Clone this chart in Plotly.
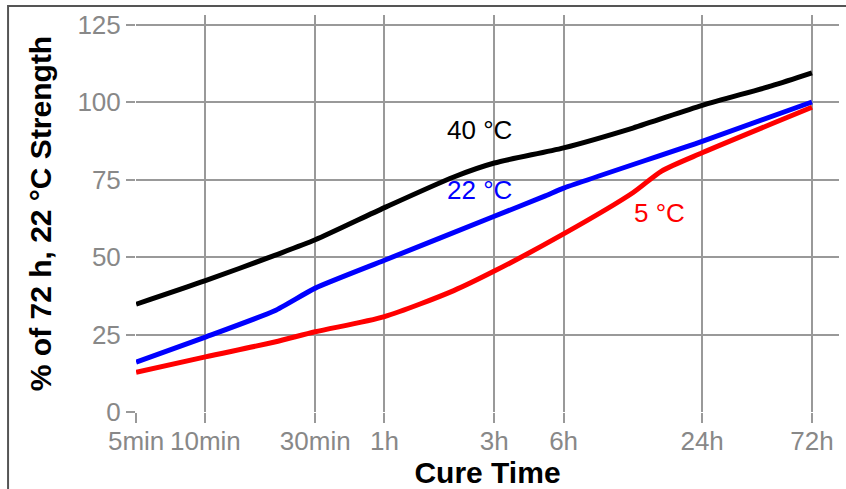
import numpy as np
import plotly.graph_objects as go

# Cure time in minutes
tick_minutes = [5, 10, 30, 60, 180, 360, 1440, 4320]
tick_labels = ["5min", "10min", "30min", "1h", "3h", "6h", "24h", "72h"]

t_40 = [5, 10, 20, 30, 60, 120, 180, 360, 720, 1440, 2880, 4320]
v_40 = [34.8, 42.4, 50.6, 55.6, 66.0, 75.9, 80.4, 85.3, 91.7, 99.0, 105.3, 109.5]

t_22 = [5, 10, 20, 30, 60, 180, 300, 360, 1440, 4320]
v_22 = [16.1, 24.2, 32.7, 40.0, 49.0, 63.2, 69.8, 72.3, 87.4, 100.1]

t_5 = [5, 10, 20, 30, 60, 120, 180, 360, 720, 960, 1440, 4320]
v_5 = [12.8, 17.8, 22.6, 25.9, 30.8, 39.2, 45.5, 57.5, 70.8, 77.8, 83.7, 98.4]

FONT = "Liberation Sans, Arial, sans-serif"

fig = go.Figure()
for t, v, c, name, sm in [(t_40, v_40, "#000000", "40 °C", 0.7),
                          (t_22, v_22, "#0000FF", "22 °C", 0.5),
                          (t_5, v_5, "#FF0000", "5 °C", 0.7)]:
    fig.add_trace(go.Scatter(x=t, y=v, mode="lines", name=name,
                             line=dict(color=c, width=5, shape="spline", smoothing=sm),
                             showlegend=False))

fig.add_annotation(x=np.log10(156), y=91.1, text="40 °C", showarrow=False,
                   font=dict(family=FONT, size=26, color="#000000"))
fig.add_annotation(x=np.log10(156), y=71.7, text="22 °C", showarrow=False,
                   font=dict(family=FONT, size=26, color="#0000FF"))
fig.add_annotation(x=np.log10(944), y=64.3, text="5 °C", showarrow=False,
                   font=dict(family=FONT, size=26, color="#FF0000"))

# outer frame (top and left edges visible)
fig.add_shape(type="rect", xref="paper", yref="paper",
              x0=-0.182, x1=1.3, y0=-0.6, y1=1.0227,
              line=dict(color="#555555", width=2), fillcolor="rgba(0,0,0,0)")

fig.update_xaxes(type="log", range=[np.log10(5) - 0.0005, 3.753],
                 tickvals=tick_minutes, ticktext=tick_labels,
                 showgrid=True, gridcolor="#999999", gridwidth=1.5,
                 ticks="outside", ticklen=10, tickcolor="#999999", tickwidth=1.5,
                 tickfont=dict(family=FONT, size=26, color="#888888"),
                 ticklabelstandoff=-4,
                 showline=False, zeroline=False,
                 title=dict(text="Cure Time", standoff=0,
                            font=dict(family=FONT, size=30, color="#000000", weight="bold")))
fig.update_yaxes(range=[0, 128.2], tickvals=[0, 25, 50, 75, 100, 125],
                 showgrid=True, gridcolor="#999999", gridwidth=1.5,
                 ticks="outside", ticklen=9, tickcolor="#999999", tickwidth=1.5,
                 tickfont=dict(family=FONT, size=26, color="#888888"),
                 showline=False, zeroline=False,
                 title=dict(text="% of 72 h, 22 °C Strength", standoff=16,
                            font=dict(family=FONT, size=30, color="#000000", weight="bold")))

fig.update_layout(width=846, height=489, plot_bgcolor="white", paper_bgcolor="white",
                  margin=dict(l=136, r=7, t=15, b=77, autoexpand=False))

fig.write_html("out.html", config={"displayModeBar": False},
               post_script="document.body.style.margin='0';document.body.style.overflow='hidden';")
